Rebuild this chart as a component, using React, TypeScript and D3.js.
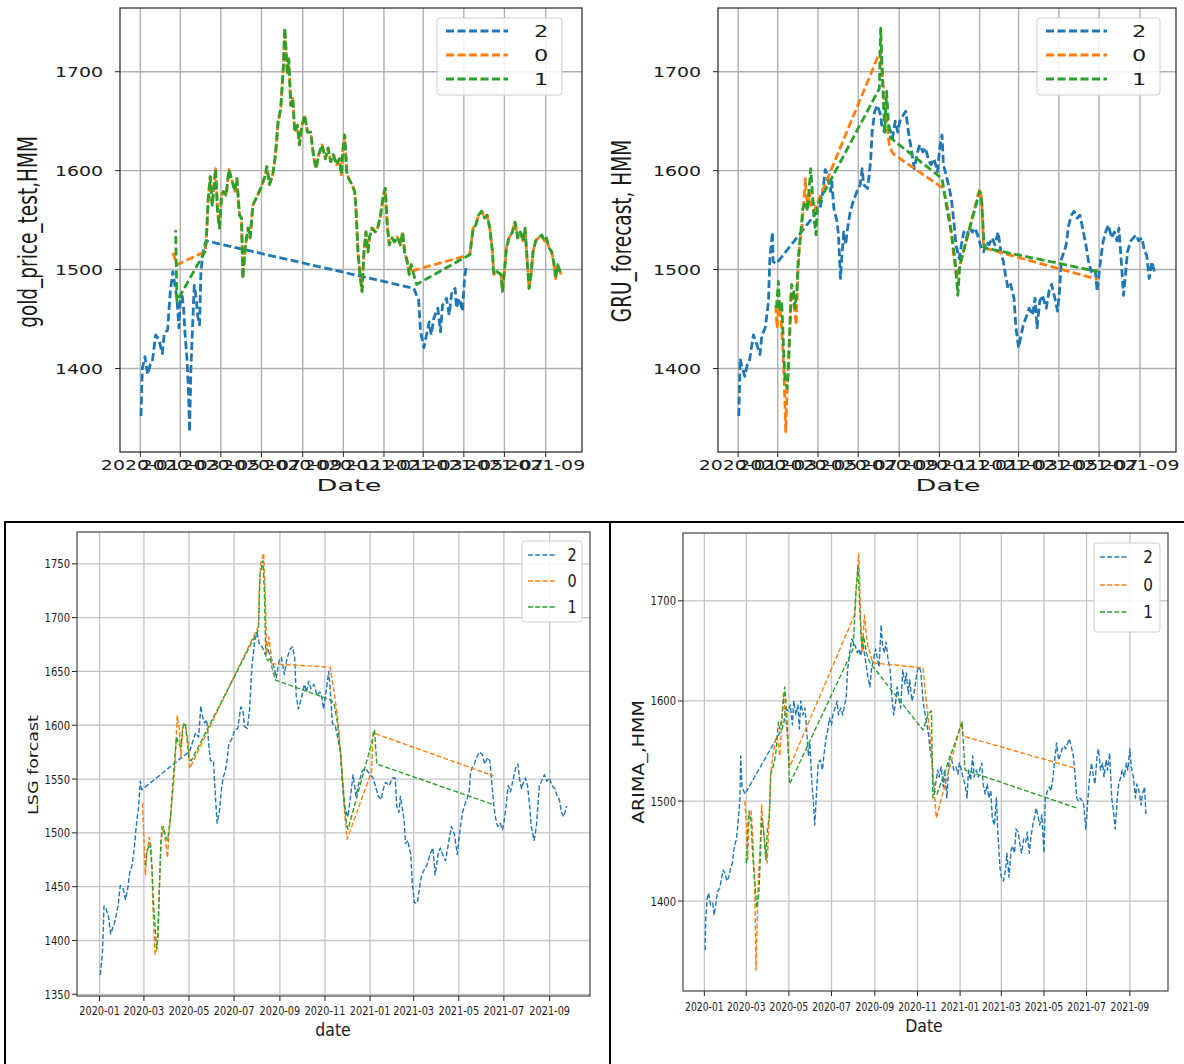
import React from "react";
import * as d3 from "d3";

type Pt = [number, number];

// ---------- shared labels / ticks ----------
const stateNames = ["2", "0", "1"];
const stateColors = ["#1f77b4", "#ff7f0e", "#2ca02c"];
const yTicksGold = [1400, 1500, 1600, 1700];
const yTicksGru = [1400, 1500, 1600, 1700];
const yTicksLsg = [1350, 1400, 1450, 1500, 1550, 1600, 1650, 1700, 1750];
const yTicksArima = [1400, 1500, 1600, 1700];

// ---------- data: [day offset from 2020-01-01, value] ----------
// Panel 1: gold_price_test,HMM
const goldStateTwo: Pt[] = [
  [1,1352],[3,1400],[7,1412],[11,1394],[15,1404],[18,1407],[23,1434],[28,1429],[33,1415],[36,1436],[41,1439],
  [45,1478],[49,1498],[52,1484],[55,1471],[58,1441],[60,1468],[63,1473],[65,1461],[67,1437],[70,1410],[72,1383],
  [74,1336],[76,1400],[79,1451],[81,1484],[84,1471],[86,1454],[89,1444],[91,1498],[95,1522],[99,1529],
  [411,1481],[415,1474],[418,1471],[421,1437],[426,1421],[430,1434],[434,1447],[437,1434],[441,1451],[447,1461],
  [451,1437],[454,1464],[460,1471],[464,1454],[468,1478],[473,1481],[475,1461],[479,1471],[484,1458],[487,1491],[490,1505],
];
const goldMid: Pt[] = [
  [97,1518],[99,1528],[102,1572],[105,1594],[108,1565],[111,1586],[113,1602],[116,1559],[119,1542],[122,1575],
  [125,1579],[129,1575],[133,1601],[137,1592],[142,1579],[145,1592],[149,1555],[152,1552],[154,1491],[158,1525],
  [162,1542],[165,1532],[169,1565],[176,1575],[182,1584],[188,1596],[190,1604],[194,1586],[199,1596],[203,1616],
  [207,1649],[211,1663],[215,1707],[217,1744],[221,1697],[223,1713],[226,1666],[229,1673],[232,1639],[236,1646],
  [239,1626],[243,1646],[247,1656],[251,1639],[256,1639],[260,1616],[264,1602],[268,1616],[273,1626],[278,1612],
  [282,1623],[286,1609],[290,1616],[295,1606],[299,1612],[302,1596],[304,1619],[307,1636],[310,1599],[313,1592],
  [318,1586],[322,1579],[324,1562],[327,1518],[330,1495],[333,1478],[336,1518],[339,1538],[342,1518],[344,1532],
  [348,1542],[353,1538],[357,1543],[361,1555],[365,1575],[368,1582],[371,1545],[374,1525],[378,1532],[382,1528],
  [386,1533],[391,1525],[394,1538],[397,1518],[401,1508],[404,1495],[407,1505],
];
const goldLate: Pt[] = [
  [495,1515],[500,1542],[504,1545],[508,1555],[513,1559],[517,1552],[521,1555],[525,1542],[529,1518],[531,1495],
  [536,1498],[542,1495],[544,1478],[547,1498],[550,1522],[554,1532],[559,1538],[563,1548],[567,1532],[571,1538],
  [575,1529],[578,1542],[581,1511],[584,1481],[587,1495],[590,1518],[594,1529],[598,1532],[603,1535],[607,1529],
  [610,1532],[614,1522],[618,1518],[621,1508],[624,1491],[627,1505],[632,1495],
];
const goldZeroHead: Pt[] = [[49,1517],[55,1505]];
const goldZeroTail: Pt[] = [[410,1499]];
const goldOneHead: Pt[] = [[53,1540],[55,1468]];
const goldOneTail: Pt[] = [[410,1497],[415,1485]];
const goldStateZero: Pt[] = [...goldZeroHead, ...goldMid, ...goldZeroTail, ...goldLate];
const goldStateOne: Pt[] = [...goldOneHead, ...goldMid, ...goldOneTail, ...goldLate];

// Panel 2: GRU_forecast, HMM
const gruStateTwo: Pt[] = [
  [1,1352],[3,1410],[5,1404],[10,1392],[14,1404],[17,1407],[23,1434],[28,1425],[33,1414],[36,1434],[41,1441],
  [46,1468],[48,1511],[52,1538],[53,1508],[58,1506],[124,1562],[127,1572],[132,1601],[135,1596],[140,1579],
  [142,1589],[145,1562],[150,1548],[152,1535],[155,1491],[157,1511],[160,1538],[163,1525],[165,1538],[170,1559],
  [175,1570],[180,1579],[185,1586],[188,1602],[190,1586],[196,1582],[198,1592],[201,1612],[203,1639],[207,1660],
  [211,1666],[216,1656],[218,1643],[222,1639],[228,1646],[234,1633],[238,1650],[242,1639],[245,1650],[250,1656],
  [254,1660],[258,1639],[262,1623],[267,1602],[271,1616],[275,1626],[280,1619],[284,1623],[288,1612],[292,1606],
  [297,1612],[302,1599],[306,1626],[309,1636],[311,1606],[315,1596],[320,1582],[323,1572],[327,1548],[330,1525],
  [335,1511],[339,1528],[342,1538],[346,1532],[350,1542],[355,1538],[359,1542],[363,1535],[367,1525],[372,1518],
  [376,1528],[380,1525],[385,1532],[389,1525],[394,1538],[398,1518],[402,1508],[405,1495],[409,1481],[413,1485],
  [418,1471],[421,1441],[425,1421],[429,1434],[432,1444],[436,1451],[441,1461],[446,1454],[450,1471],[453,1441],
  [457,1468],[461,1474],[467,1461],[471,1478],[475,1485],[480,1471],[484,1458],[487,1478],[490,1511],[494,1518],
  [497,1525],[501,1545],[505,1555],[509,1559],[514,1552],[518,1555],[522,1542],[527,1525],[531,1508],[535,1498],
  [541,1501],[544,1478],[549,1508],[553,1528],[557,1538],[561,1545],[566,1532],[570,1538],[574,1529],[577,1542],
  [581,1505],[584,1474],[587,1495],[590,1518],[595,1529],[599,1532],[603,1535],[607,1529],[612,1532],[616,1518],
  [619,1515],[623,1491],[627,1508],[632,1495],
];
const gruStateZero: Pt[] = [
  [57,1464],[59,1441],[62,1468],[65,1451],[68,1417],[70,1384],[72,1336],[75,1390],[78,1434],[80,1478],[83,1474],
  [85,1461],[88,1444],[90,1488],[93,1525],[97,1545],[99,1565],[102,1592],[103,1575],[106,1565],[108,1579],
  [110,1565],[113,1572],[115,1559],[216,1722],[221,1673],[225,1650],[229,1626],[233,1619],[237,1616],[311,1582],
  [320,1555],[326,1518],[331,1491],[366,1582],[369,1572],[372,1522],[545,1490],
];
const gruStateOne: Pt[] = [
  [58,1461],[61,1488],[63,1458],[66,1468],[69,1417],[71,1390],[74,1380],[76,1397],[79,1451],[81,1485],[84,1478],
  [86,1461],[89,1478],[91,1511],[95,1538],[98,1562],[102,1569],[105,1559],[108,1586],[110,1602],[113,1572],
  [115,1552],[118,1535],[120,1565],[214,1683],[216,1744],[219,1690],[222,1639],[225,1680],[228,1646],[231,1633],
  [309,1592],[317,1559],[323,1538],[329,1508],[333,1474],[336,1505],[366,1579],[369,1569],[373,1522],[545,1498],
];

// Panel 3: LSG forcast
const lsgStateTwo: Pt[] = [
  [1,1368],[4,1390],[6,1432],[9,1429],[12,1422],[15,1406],[20,1416],[22,1422],[25,1432],[28,1451],[32,1448],
  [35,1438],[38,1448],[41,1464],[44,1470],[47,1486],[50,1509],[53,1525],[55,1548],[57,1540],[122,1576],[128,1589],
  [130,1593],[134,1589],[137,1618],[139,1609],[142,1602],[145,1605],[148,1580],[150,1567],[154,1567],[157,1531],
  [159,1509],[162,1519],[165,1541],[167,1551],[170,1557],[173,1570],[175,1583],[178,1586],[180,1589],[183,1596],
  [187,1597],[191,1617],[194,1614],[196,1599],[200,1597],[203,1615],[206,1654],[210,1679],[213,1686],[216,1676],
  [220,1673],[224,1666],[228,1670],[232,1663],[236,1654],[239,1644],[243,1660],[246,1663],[250,1647],[253,1660],
  [257,1670],[261,1673],[264,1663],[266,1628],[269,1615],[273,1625],[277,1638],[280,1631],[283,1641],[286,1634],
  [290,1638],[294,1628],[298,1631],[301,1625],[303,1615],[307,1634],[310,1650],[312,1634],[315,1602],[319,1599],
  [322,1589],[326,1576],[328,1551],[331,1525],[336,1515],[339,1531],[343,1554],[347,1534],[350,1544],[355,1557],
  [359,1560],[363,1557],[366,1554],[370,1551],[373,1544],[377,1534],[381,1531],[384,1541],[387,1547],[392,1544],
  [396,1551],[400,1551],[402,1525],[405,1519],[407,1534],[412,1512],[414,1490],[417,1493],[421,1480],[423,1454],
  [426,1435],[430,1435],[434,1454],[436,1461],[440,1467],[443,1470],[447,1480],[451,1486],[454,1461],[458,1480],
  [461,1486],[464,1480],[468,1474],[472,1490],[476,1506],[480,1499],[484,1480],[487,1499],[491,1519],[495,1528],
  [497,1531],[500,1538],[502,1557],[507,1564],[510,1570],[514,1575],[518,1573],[521,1564],[525,1570],[528,1567],
  [531,1544],[534,1522],[537,1509],[539,1506],[542,1509],[545,1503],[547,1509],[550,1525],[553,1544],[556,1538],
  [559,1548],[563,1560],[566,1564],[568,1551],[571,1541],[574,1548],[576,1551],[579,1544],[582,1525],[584,1506],
  [588,1493],[591,1506],[595,1544],[598,1548],[602,1554],[605,1548],[609,1551],[612,1544],[616,1541],[619,1534],
  [622,1531],[625,1519],[628,1515],[632,1525],
];
const lsgStateZero: Pt[] = [
  [58,1528],[62,1461],[64,1480],[67,1496],[70,1486],[72,1435],[75,1387],[78,1393],[80,1435],[84,1506],[88,1499],
  [92,1477],[94,1499],[99,1538],[102,1564],[105,1609],[108,1596],[110,1570],[112,1596],[114,1602],[117,1596],
  [120,1583],[122,1560],[215,1692],[216,1724],[218,1750],[222,1760],[224,1724],[226,1666],[229,1682],[232,1666],
  [233,1657],[312,1654],[318,1628],[323,1602],[328,1557],[332,1515],[335,1494],[368,1557],[370,1593],[533,1553],
];
const lsgStateOne: Pt[] = [
  [62,1470],[64,1483],[68,1490],[71,1467],[73,1435],[77,1393],[79,1403],[83,1493],[86,1506],[90,1496],[92,1493],
  [96,1515],[100,1554],[104,1589],[107,1583],[110,1580],[113,1599],[116,1602],[118,1589],[121,1570],[124,1567],
  [215,1689],[217,1740],[221,1753],[223,1724],[225,1663],[228,1660],[231,1663],[233,1654],[238,1642],[311,1624],
  [317,1621],[322,1602],[327,1564],[331,1531],[334,1509],[336,1503],[368,1583],[372,1596],[375,1564],[534,1526],
];

// Panel 4: ARIMA_,HMM
const arimaStateTwo: Pt[] = [
  [1,1351],[2,1382],[4,1403],[6,1408],[9,1396],[12,1398],[14,1386],[17,1400],[19,1410],[22,1413],[25,1424],
  [27,1431],[30,1427],[32,1420],[35,1424],[38,1434],[40,1438],[43,1455],[46,1462],[48,1476],[51,1503],[52,1545],
  [54,1514],[58,1507],[111,1572],[114,1579],[116,1593],[120,1590],[123,1596],[126,1576],[128,1600],[131,1586],
  [134,1596],[136,1572],[138,1600],[141,1586],[144,1593],[147,1565],[149,1545],[151,1558],[154,1517],[156,1500],
  [158,1476],[161,1514],[163,1538],[166,1541],[169,1531],[171,1545],[174,1562],[177,1572],[179,1583],[182,1576],
  [184,1586],[187,1593],[190,1600],[192,1586],[195,1593],[198,1586],[200,1593],[203,1603],[205,1631],[208,1648],
  [211,1662],[213,1659],[216,1655],[219,1648],[221,1652],[224,1645],[226,1662],[229,1648],[232,1634],[234,1624],
  [237,1614],[239,1631],[242,1641],[245,1652],[247,1645],[250,1634],[253,1676],[255,1655],[258,1648],[260,1659],
  [263,1641],[266,1631],[268,1607],[271,1586],[274,1600],[276,1614],[279,1600],[281,1593],[284,1631],[287,1617],
  [289,1628],[292,1607],[294,1621],[297,1600],[300,1607],[302,1617],[305,1631],[308,1634],[310,1628],[313,1600],
  [315,1590],[318,1579],[321,1565],[323,1552],[326,1538],[329,1510],[331,1517],[334,1531],[336,1524],[339,1534],
  [342,1514],[344,1531],[347,1503],[350,1538],[352,1545],[355,1538],[357,1531],[360,1534],[363,1527],[365,1538],
  [368,1531],[370,1524],[373,1517],[376,1503],[378,1531],[381,1521],[384,1545],[386,1524],[389,1531],[392,1524],
  [394,1531],[397,1538],[399,1517],[402,1507],[405,1517],[407,1503],[410,1510],[412,1483],[415,1476],[418,1503],
  [420,1469],[423,1434],[425,1424],[428,1420],[431,1431],[433,1448],[436,1424],[439,1451],[441,1455],[444,1448],
  [446,1472],[449,1469],[452,1455],[454,1448],[457,1462],[460,1459],[462,1469],[465,1448],[467,1462],[470,1476],
  [473,1486],[475,1493],[478,1483],[480,1476],[483,1486],[486,1448],[488,1503],[491,1510],[494,1514],[496,1510],
  [499,1524],[501,1538],[504,1558],[507,1541],[509,1545],[512,1552],[515,1555],[517,1552],[520,1558],[522,1562],
  [525,1555],[528,1545],[530,1531],[533,1503],[535,1500],[538,1503],[541,1500],[543,1496],[546,1472],[549,1503],
  [551,1521],[554,1538],[557,1524],[559,1517],[562,1545],[564,1552],[567,1531],[570,1538],[572,1524],[575,1541],
  [577,1531],[580,1548],[583,1503],[585,1493],[588,1472],[591,1503],[593,1517],[596,1524],[598,1531],[601,1524],
  [604,1538],[606,1531],[609,1552],[611,1534],[614,1524],[617,1503],[619,1517],[622,1510],[625,1496],[627,1507],
  [630,1514],[632,1486],
];
const arimaStateZero: Pt[] = [
  [58,1500],[60,1479],[62,1441],[64,1486],[67,1490],[69,1469],[72,1417],[74,1331],[77,1417],[80,1458],[82,1496],
  [85,1469],[88,1448],[90,1438],[93,1486],[95,1527],[98,1545],[101,1558],[103,1565],[106,1558],[108,1545],
  [113,1607],[116,1586],[118,1572],[122,1534],[215,1686],[218,1717],[221,1747],[224,1676],[226,1648],[229,1686],
  [232,1665],[234,1655],[237,1648],[241,1638],[313,1633],[317,1603],[321,1579],[325,1552],[329,1510],[332,1483],
  [368,1579],[370,1565],[530,1533],
];
const arimaStateOne: Pt[] = [
  [60,1438],[62,1469],[64,1490],[67,1479],[69,1448],[72,1420],[75,1393],[78,1407],[80,1441],[82,1483],[85,1469],
  [88,1441],[90,1469],[93,1486],[95,1527],[100,1538],[103,1552],[106,1579],[108,1572],[111,1583],[115,1614],
  [118,1586],[122,1517],[213,1652],[217,1710],[220,1735],[223,1683],[225,1655],[228,1665],[232,1648],[237,1638],
  [313,1571],[321,1588],[325,1590],[327,1503],[330,1510],[333,1507],[369,1579],[373,1531],[533,1493],
];

// ---------- layout ----------
type Frame = { left: number; top: number; right: number; bottom: number };
type Legend = { x0: number; y0: number; x1: number; y1: number; rows: number[]; lx0: number; lx1: number; tx: number; size: number; sx: number };
type Spec = {
  frame: Frame;
  series: Pt[][];
  yTicks: number[];
  yLabel: string;
  xLabel: string;
  yLabelPos: [number, number];
  xLabelPos: [number, number];
  tickSize: number;
  tickSx: number;
  xTickSx: number;
  yTickGap: number;
  xTickOffset: number;
  labelSize: number;
  labelSx: number;
  yLabelSize: number;
  yLabelGh: number;
  lineW: number;
  dash: string;
  offsets: number[];
  legend: Legend;
  frameStroke: string;
  gridStroke: string;
  gridW: number;
};

const ORIGIN = new Date(2020, 0, 1).getTime();
const dayToDate = (d: number) => new Date(ORIGIN + d * 86400000);

const topCommon = {
  tickSize: 14, tickSx: 1.35, xTickSx: 1.35, yTickGap: 17, xTickOffset: 18,
  labelSize: 16, labelSx: 1.7, yLabelSize: 18.5, yLabelGh: 1.4,
  lineW: 2.8, dash: "8 3.5", frameStroke: "#222", gridStroke: "#b0b0b0", gridW: 1.4,
};
const botCommon = {
  tickSize: 12.5, tickSx: 0.8, xTickSx: 0.78, yTickGap: 7,
  labelSize: 18.5, labelSx: 0.85, yLabelGh: 0.85,
  lineW: 1.4, dash: "5 2.2", frameStroke: "#444", gridStroke: "#c4c4c4", gridW: 1.3,
};

const specs: Spec[] = [
  {
    ...topCommon,
    frame: { left: 120, top: 8, right: 582, bottom: 452 },
    series: [goldStateTwo, goldStateZero, goldStateOne],
    yTicks: yTicksGold,
    yLabel: "gold_price_test,HMM",
    xLabel: "Date",
    yLabelPos: [28, 232],
    xLabelPos: [349, 491],
    offsets: [0, 0, 5.5],
    legend: { x0: 437, y0: 18, x1: 562, y1: 95, rows: [31, 55, 79], lx0: 446, lx1: 508, tx: 541, size: 16, sx: 1.4 },
  },
  {
    ...topCommon,
    frame: { left: 718, top: 8, right: 1176, bottom: 452 },
    series: [gruStateTwo, gruStateZero, gruStateOne],
    yTicks: yTicksGru,
    yLabel: "GRU_forecast, HMM",
    xLabel: "Date",
    yLabelPos: [622, 231],
    xLabelPos: [948, 491],
    offsets: [0, 0, 0],
    legend: { x0: 1037, y0: 18, x1: 1160, y1: 95, rows: [31, 55, 79], lx0: 1046, lx1: 1107, tx: 1139, size: 16, sx: 1.4 },
  },
  {
    ...botCommon,
    xTickOffset: 18.5,
    yLabelSize: 17.5,
    frame: { left: 77, top: 532, right: 590, bottom: 996 },
    series: [lsgStateTwo, lsgStateZero, lsgStateOne],
    yTicks: yTicksLsg,
    yLabel: "LSG forcast",
    xLabel: "date",
    yLabelPos: [33, 765],
    xLabelPos: [333, 1036],
    offsets: [0, 0, 0],
    legend: { x0: 522, y0: 541, x1: 582, y1: 622, rows: [555, 581, 607], lx0: 528, lx1: 557, tx: 572, size: 17, sx: 0.85 },
  },
  {
    ...botCommon,
    xTickSx: 0.74,
    xTickOffset: 19.5,
    yLabelSize: 19,
    frame: { left: 683, top: 533, right: 1168, bottom: 991 },
    series: [arimaStateTwo, arimaStateZero, arimaStateOne],
    yTicks: yTicksArima,
    yLabel: "ARIMA_,HMM",
    xLabel: "Date",
    yLabelPos: [638, 762],
    xLabelPos: [924, 1032],
    offsets: [0, 0, 0],
    legend: { x0: 1094, y0: 543, x1: 1160, y1: 632, rows: [557, 585, 612], lx0: 1100, lx1: 1128, tx: 1148, size: 18, sx: 0.85 },
  },
];

const FONT = "'DejaVu Sans', 'Liberation Sans', sans-serif";

function STxt(props: { x: number; y: number; sx?: number; sy?: number; rot?: number; size: number; anchor?: string; dy?: string; children: React.ReactNode }) {
  const { x, y, sx = 1, sy = 1, rot = 0, size, anchor = "middle", dy, children } = props;
  return (
    <text
      transform={`translate(${x},${y}) rotate(${rot}) scale(${sx},${sy})`}
      fontSize={size}
      fontFamily={FONT}
      textAnchor={anchor as any}
      dy={dy}
      fill="#1a1a1a"
    >
      {children}
    </text>
  );
}

function Panel({ s }: { s: Spec }) {
  const f = s.frame;
  const all = s.series.flat();
  const [d0, d1] = d3.extent(all, (d) => d[0]) as [number, number];
  const [v0, v1] = d3.extent(all, (d) => d[1]) as [number, number];
  const dp = (d1 - d0) * 0.05;
  const vp = (v1 - v0) * 0.05;
  const x = d3.scaleTime().domain([dayToDate(d0 - dp), dayToDate(d1 + dp)]).range([f.left, f.right]);
  const y = d3.scaleLinear().domain([v0 - vp, v1 + vp]).range([f.bottom, f.top]);
  const line = d3.line<Pt>().x((d) => x(dayToDate(d[0]))).y((d) => y(d[1]));
  const xt = x.ticks(d3.timeMonth.every(2) as any);
  const fmt = d3.timeFormat("%Y-%m");
  const lg = s.legend;
  return (
    <g>
      {xt.map((t, i) => (
        <line key={"gx" + i} x1={x(t)} x2={x(t)} y1={f.top} y2={f.bottom} stroke={s.gridStroke} strokeWidth={s.gridW} />
      ))}
      {s.yTicks.map((t, i) => (
        <line key={"gy" + i} x1={f.left} x2={f.right} y1={y(t)} y2={y(t)} stroke={s.gridStroke} strokeWidth={s.gridW} />
      ))}
      {s.series.map((data, i) => (
        <path
          key={"s" + i}
          d={line(data) || ""}
          fill="none"
          stroke={stateColors[i]}
          strokeWidth={s.lineW}
          strokeDasharray={s.dash}
          strokeDashoffset={s.offsets[i]}
          strokeLinejoin="round"
        />
      ))}
      <rect x={f.left} y={f.top} width={f.right - f.left} height={f.bottom - f.top} fill="none" stroke={s.frameStroke} strokeWidth={1.2} />
      {xt.map((t, i) => (
        <g key={"tx" + i}>
          <line x1={x(t)} x2={x(t)} y1={f.bottom} y2={f.bottom + 5} stroke="#222" strokeWidth={1} />
          <STxt x={x(t)} y={f.bottom + s.xTickOffset} sx={s.xTickSx} size={s.tickSize}>{fmt(t)}</STxt>
        </g>
      ))}
      {s.yTicks.map((t, i) => (
        <g key={"ty" + i}>
          <line x1={f.left - 5} x2={f.left} y1={y(t)} y2={y(t)} stroke="#222" strokeWidth={1} />
          <STxt x={f.left - s.yTickGap} y={y(t)} sx={s.tickSx} size={s.tickSize} anchor="end" dy="0.36em">{String(t)}</STxt>
        </g>
      ))}
      <STxt x={s.xLabelPos[0]} y={s.xLabelPos[1]} sx={s.labelSx} size={s.labelSize}>{s.xLabel}</STxt>
      <STxt x={s.yLabelPos[0]} y={s.yLabelPos[1]} rot={-90} sy={s.yLabelGh} size={s.yLabelSize} dy="0.36em">{s.yLabel}</STxt>
      <rect x={lg.x0} y={lg.y0} width={lg.x1 - lg.x0} height={lg.y1 - lg.y0} rx={3} fill="#fff" fillOpacity={0.85} stroke="#cccccc" strokeWidth={1} />
      {stateNames.map((n, i) => (
        <g key={"lg" + i}>
          <line x1={lg.lx0} x2={lg.lx1} y1={lg.rows[i]} y2={lg.rows[i]} stroke={stateColors[i]} strokeWidth={s.lineW} strokeDasharray={s.dash} />
          <STxt x={lg.tx} y={lg.rows[i]} sx={lg.sx} size={lg.size} dy="0.36em">{n}</STxt>
        </g>
      ))}
    </g>
  );
}

export default function App() {
  return (
    <svg
      width={1184}
      height={1064}
      viewBox="0 0 1184 1064"
      style={{ position: "absolute", left: 0, top: 0, background: "#fff" }}
    >
      <rect x={0} y={0} width={1184} height={1064} fill="#fff" />
      {specs.map((s, i) => (
        <Panel key={i} s={s} />
      ))}
      <line x1={4} x2={1184} y1={522} y2={522} stroke="#000" strokeWidth={2} />
      <line x1={5} x2={5} y1={521} y2={1064} stroke="#000" strokeWidth={2} />
      <line x1={610} x2={610} y1={521} y2={1064} stroke="#000" strokeWidth={2} />
    </svg>
  );
}
